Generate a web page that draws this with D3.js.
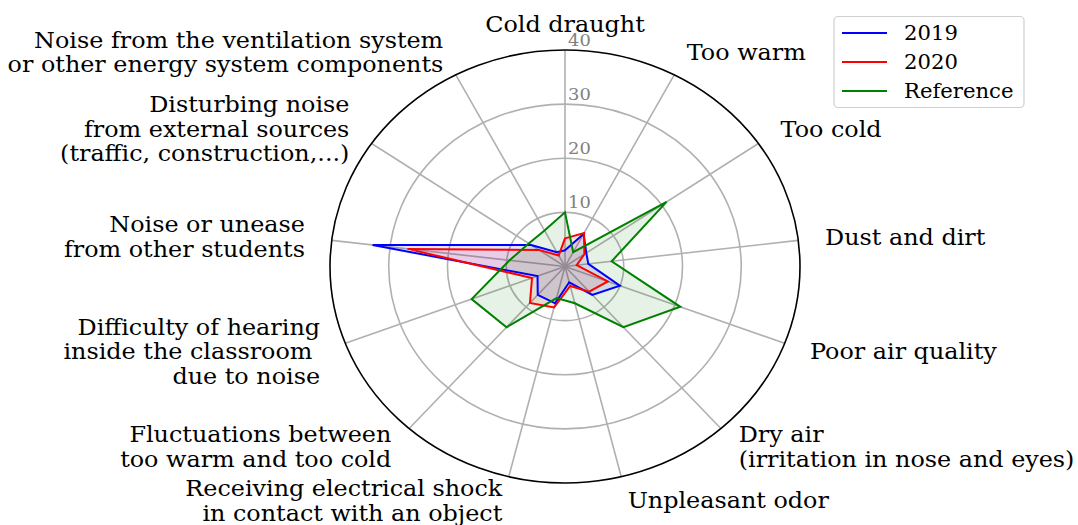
<!DOCTYPE html>
<html><head><meta charset="utf-8">
<script src="https://cdn.jsdelivr.net/npm/d3@7"></script>
<style>
body{margin:0;background:#fff}
text{font-family:"DejaVu Serif",serif;white-space:pre}
</style>
</head><body>
<svg id="chart" width="1078" height="525"></svg>
<script>
const categories = [
  "Cold draught",
  "Too warm",
  "Too cold",
  "Dust and dirt",
  "Poor air quality",
  "Dry air\n(irritation in nose and eyes)",
  "Unpleasant odor",
  "Receiving electrical shock\nin contact with an object",
  "Fluctuations between\ntoo warm and too cold",
  "Difficulty of hearing\ninside the classroom \ndue to noise",
  "Noise or unease\nfrom other students",
  "Disturbing noise\nfrom external sources\n(traffic, construction,...)",
  "Noise from the ventilation system\nor other energy system components"
];
const values2019 = [3, 6.8, 4.4, 4, 10, 7, 3, 7, 7, 5, 33, 7, 3];
const values2020 = [5.2, 7, 4, 2, 7.8, 6.2, 3.7, 7.8, 9, 6, 27, 5.4, 2.3];
const valuesRef  = [10, 3, 21, 8, 21, 15, 7, 6, 15, 17, 9.5, 7.5, 7.5];
const seriesNames = ["2019", "2020", "Reference"];
const seriesColors = ["#0000ff", "#ff0000", "#008000"];
const rTicks = [10, 20, 30, 40];

const svg = d3.select("#chart");
const cx = 565, cy = 266.5, rx = 235, ry = 216.5;
const sx = rx / ry; // horizontal stretch of the picture
const r = d3.scaleLinear().domain([0, 40]).range([0, 1]);
const n = categories.length;
const ang = d3.scaleLinear().domain([0, n]).range([0, 2 * Math.PI]);
const px = (i, v) => cx + rx * r(v) * Math.sin(ang(i));
const py = (i, v) => cy - ry * r(v) * Math.cos(ang(i));

function stretchedText(parent, x, y) {
  return parent.append("text").attr("transform", `translate(${x},${y}) scale(${sx},1)`);
}

const g = svg.append("g");
// grid circles
rTicks.slice(0, -1).forEach(t => {
  g.append("ellipse").attr("cx", cx).attr("cy", cy)
    .attr("rx", rx * r(t)).attr("ry", ry * r(t))
    .attr("fill", "none").attr("stroke", "#b0b0b0").attr("stroke-width", 1.6);
});
// spokes
categories.forEach((c, i) => {
  g.append("line").attr("x1", cx).attr("y1", cy)
    .attr("x2", px(i, 40)).attr("y2", py(i, 40))
    .attr("stroke", "#b0b0b0").attr("stroke-width", 1.6);
});
// outer spine
g.append("ellipse").attr("cx", cx).attr("cy", cy).attr("rx", rx).attr("ry", ry)
  .attr("fill", "none").attr("stroke", "#000").attr("stroke-width", 1.6);

// tick labels
rTicks.forEach(t => {
  stretchedText(g, cx + 3, cy - ry * r(t) - 4)
    .attr("fill", "#808080").attr("font-size", 16.5).text(t);
});

// series
const series = [values2019, values2020, valuesRef];
const line = d3.line().x((d, i) => px(i, d)).y((d, i) => py(i, d)).curve(d3.curveLinearClosed);
series.forEach((vals, k) => {
  g.append("path").attr("d", line(vals)).attr("fill", seriesColors[k]).attr("fill-opacity", 0.1)
    .attr("stroke", "none");
});
series.forEach((vals, k) => {
  g.append("path").attr("d", line(vals)).attr("fill", "none")
    .attr("stroke", seriesColors[k]).attr("stroke-width", 2).attr("stroke-linejoin", "miter");
});

// category labels
const fs = 22, lh = 24.5;
categories.forEach((c, i) => {
  const a = ang(i);
  const lx = cx + (rx + 27) * Math.sin(a);
  const ly = cy - (ry + 25) * Math.cos(a);
  const s = Math.sin(a);
  const anchor = Math.abs(s) < 1e-6 ? "middle" : (s > 0 ? "start" : "end");
  const lines = c.split("\n");
  const t = stretchedText(g, lx, ly).attr("font-size", fs).attr("text-anchor", anchor).attr("fill", "#000");
  lines.forEach((ln, j) => {
    t.append("tspan").attr("x", 0)
      .attr("y", -(lines.length - 1) * lh / 2 + j * lh + fs * 0.33)
      .text(ln);
  });
});

// legend
const lg = svg.append("g");
lg.append("rect").attr("x", 834).attr("y", 16.5).attr("width", 190).attr("height", 91)
  .attr("rx", 4).attr("fill", "#fff").attr("fill-opacity", 0.8).attr("stroke", "#d0d0d0").attr("stroke-width", 1.2);
seriesNames.forEach((nm, k) => {
  const yy = 33 + k * 29;
  lg.append("line").attr("x1", 842).attr("x2", 887).attr("y1", yy).attr("y2", yy)
    .attr("stroke", seriesColors[k]).attr("stroke-width", 2);
  stretchedText(lg, 904, yy + 6.5).attr("font-size", 19.5).text(nm);
});
</script>
</body></html>
